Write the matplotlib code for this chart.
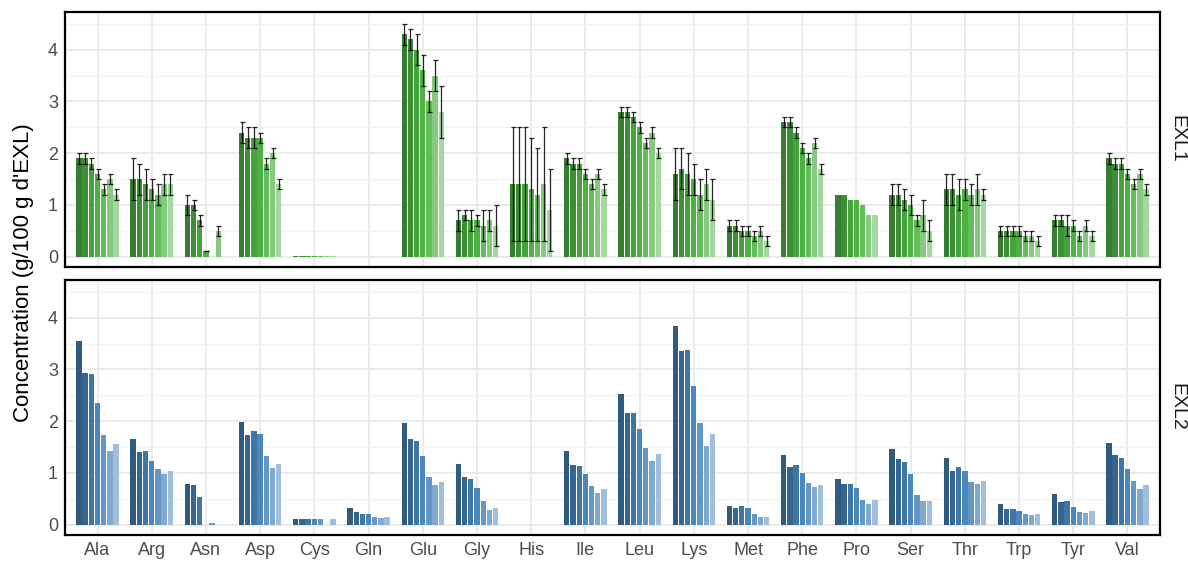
import numpy as np
import matplotlib
matplotlib.use("Agg")
import matplotlib.pyplot as plt

plt.rcParams['font.family'] = ['Liberation Sans', 'DejaVu Sans']

amino = ["Ala", "Arg", "Asn", "Asp", "Cys", "Gln", "Glu", "Gly", "His", "Ile",
         "Leu", "Lys", "Met", "Phe", "Pro", "Ser", "Thr", "Trp", "Tyr", "Val"]

# EXL1 : 7 samples per amino acid (mean, sd)
exl1_mean = [
    [1.9, 1.9, 1.8, 1.6, 1.3, 1.5, 1.2],
    [1.5, 1.5, 1.4, 1.3, 1.2, 1.4, 1.4],
    [1.0, 1.0, 0.7, 0.1, 0.0, 0.5, 0.0],
    [2.4, 2.3, 2.3, 2.3, 1.8, 2.0, 1.4],
    [0.01, 0.01, 0.01, 0.01, 0.01, 0.01, 0.01],
    [0, 0, 0, 0, 0, 0, 0],
    [4.3, 4.2, 4.0, 3.6, 3.0, 3.5, 2.8],
    [0.7, 0.8, 0.7, 0.7, 0.6, 0.7, 0.6],
    [1.4, 1.4, 1.4, 1.3, 1.2, 1.4, 0.9],
    [1.9, 1.8, 1.8, 1.6, 1.4, 1.6, 1.3],
    [2.8, 2.8, 2.7, 2.5, 2.2, 2.4, 2.0],
    [1.6, 1.7, 1.6, 1.5, 1.2, 1.4, 1.1],
    [0.6, 0.6, 0.5, 0.5, 0.4, 0.5, 0.3],
    [2.6, 2.6, 2.4, 2.1, 1.9, 2.2, 1.7],
    [1.2, 1.2, 1.1, 1.1, 1.0, 0.8, 0.8],
    [1.2, 1.2, 1.1, 1.0, 0.7, 0.8, 0.5],
    [1.3, 1.3, 1.2, 1.3, 1.2, 1.3, 1.2],
    [0.5, 0.5, 0.5, 0.5, 0.4, 0.4, 0.3],
    [0.7, 0.7, 0.6, 0.6, 0.4, 0.6, 0.4],
    [1.9, 1.8, 1.8, 1.6, 1.4, 1.6, 1.3],
]
exl1_sd = [
    [0.1, 0.1, 0.1, 0.1, 0.1, 0.1, 0.1],
    [0.4, 0.3, 0.3, 0.2, 0.2, 0.2, 0.2],
    [0.2, 0.1, 0.1, 0.0, np.nan, 0.1, np.nan],
    [0.2, 0.2, 0.2, 0.1, 0.1, 0.1, 0.1],
    [np.nan] * 7,
    [np.nan] * 7,
    [0.2, 0.2, 0.3, 0.3, 0.2, 0.3, 0.5],
    [0.2, 0.1, 0.2, 0.1, 0.3, 0.2, 0.4],
    [1.1, 1.1, 1.1, 1.0, 0.9, 1.1, 0.8],
    [0.1, 0.1, 0.1, 0.1, 0.1, 0.1, 0.1],
    [0.1, 0.1, 0.1, 0.1, 0.1, 0.1, 0.1],
    [0.5, 0.4, 0.4, 0.3, 0.3, 0.3, 0.4],
    [0.1, 0.1, 0.1, 0.1, 0.1, 0.1, 0.1],
    [0.1, 0.1, 0.1, 0.1, 0.1, 0.1, 0.1],
    [np.nan] * 7,
    [0.2, 0.2, 0.2, 0.2, 0.1, 0.3, 0.2],
    [0.3, 0.3, 0.3, 0.2, 0.2, 0.3, 0.1],
    [0.1, 0.1, 0.1, 0.1, 0.1, 0.1, 0.1],
    [0.1, 0.1, 0.2, 0.1, 0.1, 0.1, 0.1],
    [0.1, 0.1, 0.1, 0.1, 0.1, 0.1, 0.1],
]

# EXL2 : 7 samples per amino acid
exl2_mean = [
    [3.55, 2.93, 2.91, 2.35, 1.74, 1.42, 1.55],
    [1.65, 1.40, 1.42, 1.24, 1.07, 0.97, 1.03],
    [0.79, 0.76, 0.54, 0.0, 0.03, 0.0, 0.0],
    [1.98, 1.73, 1.82, 1.76, 1.32, 1.09, 1.18],
    [0.10, 0.10, 0.10, 0.10, 0.10, 0.0, 0.10],
    [0.33, 0.25, 0.21, 0.21, 0.155, 0.135, 0.155],
    [1.96, 1.65, 1.61, 1.32, 0.93, 0.76, 0.83],
    [1.18, 0.93, 0.89, 0.70, 0.45, 0.29, 0.33],
    [0, 0, 0, 0, 0, 0, 0],
    [1.42, 1.16, 1.14, 0.97, 0.74, 0.62, 0.68],
    [2.52, 2.15, 2.15, 1.84, 1.49, 1.24, 1.36],
    [3.84, 3.35, 3.37, 2.69, 1.96, 1.53, 1.76],
    [0.37, 0.33, 0.37, 0.33, 0.21, 0.155, 0.155],
    [1.34, 1.12, 1.16, 0.99, 0.81, 0.72, 0.76],
    [0.89, 0.79, 0.79, 0.70, 0.48, 0.39, 0.48],
    [1.47, 1.26, 1.22, 0.97, 0.58, 0.45, 0.45],
    [1.28, 1.03, 1.12, 1.03, 0.83, 0.79, 0.85],
    [0.39, 0.31, 0.31, 0.27, 0.21, 0.19, 0.21],
    [0.60, 0.43, 0.45, 0.35, 0.25, 0.23, 0.27],
    [1.57, 1.34, 1.28, 1.07, 0.85, 0.68, 0.76],
]

greens = ['#377d31', '#3d8f35', '#45a23c', '#4db243', '#64bd5b', '#86ca7f', '#a5d8a0']
blues = ['#2f5b7e', '#36668f', '#3e76a6', '#4b87ba', '#6497c4', '#80a9cf', '#a1bfdb']

fig = plt.figure(figsize=(11.88, 5.61), dpi=100)
W, H = 1188, 561
ax1 = fig.add_axes([65 / W, 1 - 267 / H, (1160 - 65) / W, (267 - 12) / H])
ax2 = fig.add_axes([65 / W, 1 - 535 / H, (1160 - 65) / W, (535 - 280) / H])

x = np.arange(1, len(amino) + 1)
n = 7
slot = 0.8 / n
bw = slot * 0.86


def style(ax, label, ymid):
    ax.set_xlim(0.4, len(amino) + 0.6)
    ax.set_ylim(-0.2, 4.73)
    ax.set_yticks([0, 1, 2, 3, 4])
    ax.set_yticks([0.5, 1.5, 2.5, 3.5, 4.5], minor=True)
    ax.set_xticks(x)
    ax.grid(which='major', color='#ebebeb', lw=1.4)
    ax.grid(which='minor', axis='y', color='#f2f2f2', lw=0.9)
    ax.set_axisbelow(True)
    for s in ax.spines.values():
        s.set_color('black')
        s.set_linewidth(1.6)
    ax.tick_params(which='both', length=0, labelsize=13, labelcolor='#4d4d4d', pad=5)
    fig.text(1177 / W, 1 - ymid / H, label, rotation=270,
             ha='center', va='center', fontsize=14, color='#1a1a1a')


for i in range(n):
    xi = x - 0.4 + slot * (i + 0.5)
    m1 = np.array([row[i] for row in exl1_mean])
    s1 = np.array([row[i] for row in exl1_sd])
    ax1.bar(xi, m1, width=bw, color=greens[i], zorder=2)
    ok = ~np.isnan(s1)
    ax1.errorbar(xi[ok], m1[ok], yerr=s1[ok], fmt='none', ecolor='black',
                 elinewidth=0.9, capsize=1.8, capthick=0.9, alpha=0.85, zorder=3)
    m2 = np.array([row[i] for row in exl2_mean])
    ax2.bar(xi, m2, width=bw, color=blues[i], zorder=2)

style(ax1, "EXL1", 139)
style(ax2, "EXL2", 407)
ax1.set_xticklabels([])
ax2.set_xticklabels(amino)

fig.text(24 / W, 1 - 273 / H, "Concentration (g/100 g d'EXL)", rotation=90,
         ha='center', va='center', fontsize=16)

fig.savefig("out.png", dpi=100)
